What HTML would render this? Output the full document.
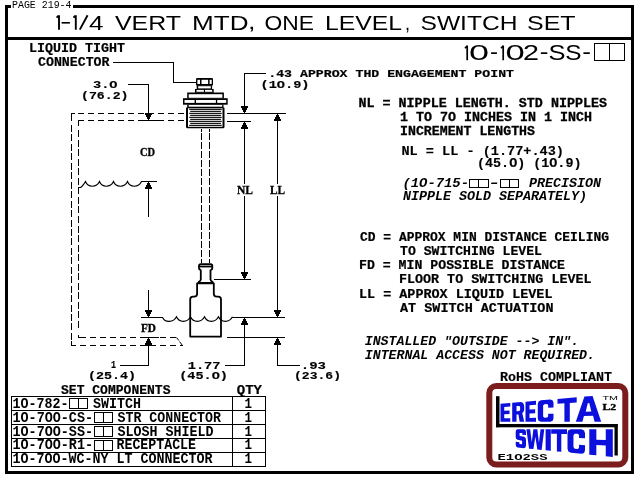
<!DOCTYPE html>
<html><head><meta charset="utf-8"><style>
html,body{margin:0;padding:0;background:#fff;width:640px;height:480px;overflow:hidden}
svg{display:block;will-change:transform}
</style></head><body>
<svg width="640" height="480" viewBox="0 0 640 480">
<rect x="0" y="0" width="640" height="480" fill="#fff"/>
<!-- connector -->
<g fill="#000">
<rect x="196" y="78" width="17" height="7.6" rx="1.2"/>
<rect x="196.7" y="85.2" width="15.4" height="4"/>
<rect x="195" y="89" width="18.7" height="3.8"/>
<rect x="187.2" y="92.5" width="36.7" height="6"/>
<rect x="183" y="98.2" width="44.7" height="6.5"/>
<rect x="187.2" y="104.5" width="36.3" height="2.8"/>
<rect x="186" y="107" width="38.5" height="21.3" rx="1.5"/>
</g>
<g fill="#fff">
<rect x="197.4" y="79.8" width="2.6" height="4.2"/>
<rect x="201.5" y="79.8" width="6.6" height="4.2"/>
<rect x="209.6" y="79.8" width="2.1" height="4.2"/>
<rect x="198.2" y="86.2" width="12.6" height="2.2"/>
<rect x="196.5" y="89.9" width="7.4" height="1.9"/>
<rect x="205" y="89.9" width="7.2" height="1.9"/>
<rect x="188.7" y="94.2" width="33.7" height="3.6"/>
<rect x="184.5" y="100" width="10.1" height="2.9"/>
<rect x="196" y="100" width="19.9" height="2.9"/>
<rect x="217.2" y="100" width="9" height="2.9"/>
<rect x="188.7" y="105" width="33.5" height="1.7"/>
<rect x="188" y="108.3" width="34.5" height="18.5"/>
</g>
<g fill="#000">
<rect x="189.2" y="108.8" width="32.5" height="1.1"/>
<rect x="190.2" y="110.8" width="30.7" height="1.1"/>
<rect x="189.2" y="112.8" width="32.5" height="1.1"/>
<rect x="190.2" y="114.8" width="30.7" height="1.1"/>
<rect x="189.2" y="116.8" width="32.5" height="1.1"/>
<rect x="190.2" y="118.8" width="30.7" height="1.1"/>
<rect x="189.2" y="120.8" width="32.5" height="1.1"/>
<rect x="190.2" y="122.8" width="30.7" height="1.1"/>
<rect x="189.2" y="124.8" width="32.5" height="1.1"/>
</g>
<!-- switch -->
<g fill="none" stroke="#000" stroke-width="1.8" stroke-linejoin="round">
<path d="M201,269.8 Q199,269.8 199,268 L199,265.8 Q199,264.1 200.8,264.1 L210.6,264.1 Q212.3,264.1 212.3,265.8 L212.3,268 Q212.3,269.8 210.4,269.8"/>
<line x1="199" y1="266.5" x2="212.3" y2="266.5"/>
<path d="M200.8,269.8 L200.8,279.5 Q200.8,281 198.8,281.8 L198.8,283.3"/>
<path d="M210.5,269.8 L210.5,279.5 Q210.5,281 212.5,281.8 L212.5,283.3"/>
<path d="M197.1,283.3 L197.1,293.8 Q197.1,296.6 194.3,296.6 L193,296.6 Q190.2,296.6 190.2,299.4 L190.2,336.6 L221,336.6 L221,299.4 Q221,296.6 218.2,296.6 L216.6,296.6 Q213.8,296.6 213.8,293.8 L213.8,283.3 Z"/>
</g>
<line x1="197.5" y1="283" x2="213.5" y2="283" stroke="#000" stroke-width="2"/>
<!-- logo -->
<rect x="489.3" y="386" width="136" height="78.5" rx="7" fill="none" stroke="#7b1d1d" stroke-width="6"/>
<g fill="#000">
<rect x="496" y="396.2" width="3.5" height="31"/>
<rect x="496" y="424" width="121.5" height="3.3"/>
<rect x="614.5" y="424" width="3.3" height="31.5"/>
</g><rect x="5" y="5" width="3" height="469" fill="#000"/>
<rect x="631" y="5" width="3" height="469" fill="#000"/>
<rect x="73" y="5" width="561" height="3" fill="#000"/>
<rect x="5" y="5" width="6" height="3" fill="#000"/>
<rect x="5" y="471" width="629" height="3" fill="#000"/>
<rect x="5" y="37" width="629" height="3" fill="#000"/>
<rect x="594" y="43" width="31" height="1" fill="#000"/>
<rect x="594" y="60" width="31" height="1" fill="#000"/>
<rect x="594" y="43" width="1" height="18" fill="#000"/>
<rect x="624" y="43" width="1" height="18" fill="#000"/>
<rect x="609" y="43" width="1" height="18" fill="#000"/>
<rect x="71" y="113" width="4" height="1" fill="#000"/>
<rect x="78" y="113" width="6" height="1" fill="#000"/>
<rect x="88" y="113" width="6" height="1" fill="#000"/>
<rect x="98" y="113" width="6" height="1" fill="#000"/>
<rect x="108" y="113" width="6" height="1" fill="#000"/>
<rect x="118" y="113" width="6" height="1" fill="#000"/>
<rect x="128" y="113" width="6" height="1" fill="#000"/>
<rect x="138" y="113" width="6" height="1" fill="#000"/>
<rect x="148" y="113" width="6" height="1" fill="#000"/>
<rect x="158" y="113" width="6" height="1" fill="#000"/>
<rect x="168" y="113" width="6" height="1" fill="#000"/>
<rect x="178" y="113" width="6" height="1" fill="#000"/>
<rect x="71" y="113" width="1" height="8" fill="#000"/>
<rect x="71" y="341" width="1" height="5" fill="#000"/>
<rect x="71" y="125" width="1" height="7" fill="#000"/>
<rect x="71" y="134" width="1" height="7" fill="#000"/>
<rect x="71" y="144" width="1" height="7" fill="#000"/>
<rect x="71" y="153" width="1" height="7" fill="#000"/>
<rect x="71" y="163" width="1" height="7" fill="#000"/>
<rect x="71" y="172" width="1" height="7" fill="#000"/>
<rect x="71" y="182" width="1" height="7" fill="#000"/>
<rect x="71" y="191" width="1" height="7" fill="#000"/>
<rect x="71" y="201" width="1" height="7" fill="#000"/>
<rect x="71" y="210" width="1" height="7" fill="#000"/>
<rect x="71" y="220" width="1" height="7" fill="#000"/>
<rect x="71" y="229" width="1" height="7" fill="#000"/>
<rect x="71" y="238" width="1" height="7" fill="#000"/>
<rect x="71" y="248" width="1" height="7" fill="#000"/>
<rect x="71" y="257" width="1" height="7" fill="#000"/>
<rect x="71" y="267" width="1" height="7" fill="#000"/>
<rect x="71" y="276" width="1" height="7" fill="#000"/>
<rect x="71" y="286" width="1" height="7" fill="#000"/>
<rect x="71" y="295" width="1" height="7" fill="#000"/>
<rect x="71" y="305" width="1" height="7" fill="#000"/>
<rect x="71" y="314" width="1" height="7" fill="#000"/>
<rect x="71" y="323" width="1" height="7" fill="#000"/>
<rect x="71" y="333" width="1" height="7" fill="#000"/>
<rect x="71" y="345" width="5" height="1" fill="#000"/>
<rect x="80" y="345" width="6" height="1" fill="#000"/>
<rect x="90" y="345" width="6" height="1" fill="#000"/>
<rect x="100" y="345" width="6" height="1" fill="#000"/>
<rect x="110" y="345" width="6" height="1" fill="#000"/>
<rect x="120" y="345" width="6" height="1" fill="#000"/>
<rect x="130" y="345" width="6" height="1" fill="#000"/>
<rect x="140" y="345" width="6" height="1" fill="#000"/>
<rect x="150" y="345" width="6" height="1" fill="#000"/>
<rect x="160" y="345" width="6" height="1" fill="#000"/>
<rect x="170" y="345" width="6" height="1" fill="#000"/>
<rect x="180" y="345" width="3" height="1" fill="#000"/>
<rect x="78" y="120" width="6" height="1" fill="#000"/>
<rect x="88" y="120" width="6" height="1" fill="#000"/>
<rect x="98" y="120" width="6" height="1" fill="#000"/>
<rect x="108" y="120" width="6" height="1" fill="#000"/>
<rect x="118" y="120" width="6" height="1" fill="#000"/>
<rect x="128" y="120" width="6" height="1" fill="#000"/>
<rect x="138" y="120" width="6" height="1" fill="#000"/>
<rect x="148" y="120" width="6" height="1" fill="#000"/>
<rect x="158" y="120" width="6" height="1" fill="#000"/>
<rect x="168" y="120" width="6" height="1" fill="#000"/>
<rect x="178" y="120" width="6" height="1" fill="#000"/>
<rect x="138" y="120" width="26" height="1" fill="#000"/>
<rect x="78" y="120" width="1" height="6" fill="#000"/>
<rect x="78" y="335" width="1" height="3" fill="#000"/>
<rect x="78" y="130" width="1" height="7" fill="#000"/>
<rect x="78" y="140" width="1" height="7" fill="#000"/>
<rect x="78" y="149" width="1" height="7" fill="#000"/>
<rect x="78" y="159" width="1" height="7" fill="#000"/>
<rect x="78" y="168" width="1" height="7" fill="#000"/>
<rect x="78" y="178" width="1" height="7" fill="#000"/>
<rect x="78" y="187" width="1" height="7" fill="#000"/>
<rect x="78" y="197" width="1" height="7" fill="#000"/>
<rect x="78" y="206" width="1" height="7" fill="#000"/>
<rect x="78" y="216" width="1" height="7" fill="#000"/>
<rect x="78" y="226" width="1" height="7" fill="#000"/>
<rect x="78" y="235" width="1" height="7" fill="#000"/>
<rect x="78" y="245" width="1" height="7" fill="#000"/>
<rect x="78" y="254" width="1" height="7" fill="#000"/>
<rect x="78" y="264" width="1" height="7" fill="#000"/>
<rect x="78" y="273" width="1" height="7" fill="#000"/>
<rect x="78" y="283" width="1" height="7" fill="#000"/>
<rect x="78" y="292" width="1" height="7" fill="#000"/>
<rect x="78" y="302" width="1" height="7" fill="#000"/>
<rect x="78" y="311" width="1" height="7" fill="#000"/>
<rect x="78" y="321" width="1" height="7" fill="#000"/>
<rect x="78" y="337" width="8" height="1" fill="#000"/>
<rect x="90" y="337" width="6" height="1" fill="#000"/>
<rect x="100" y="337" width="6" height="1" fill="#000"/>
<rect x="110" y="337" width="6" height="1" fill="#000"/>
<rect x="120" y="337" width="6" height="1" fill="#000"/>
<rect x="130" y="337" width="6" height="1" fill="#000"/>
<rect x="140" y="337" width="6" height="1" fill="#000"/>
<rect x="150" y="337" width="6" height="1" fill="#000"/>
<rect x="160" y="337" width="6" height="1" fill="#000"/>
<rect x="170" y="337" width="6" height="1" fill="#000"/>
<rect x="141" y="337" width="18" height="1" fill="#000"/>
<rect x="145" y="345" width="11" height="1" fill="#000"/>
<path d="M176.5,337.5 L178.8,340.5 M179.6,341.6 L182.5,345.5" stroke="#000" stroke-width="1" fill="none"/>
<rect x="201" y="129" width="1" height="3" fill="#000"/>
<rect x="201" y="133" width="1" height="7" fill="#000"/>
<rect x="201" y="142" width="1" height="7" fill="#000"/>
<rect x="201" y="151" width="1" height="7" fill="#000"/>
<rect x="201" y="160" width="1" height="7" fill="#000"/>
<rect x="201" y="169" width="1" height="7" fill="#000"/>
<rect x="201" y="178" width="1" height="7" fill="#000"/>
<rect x="201" y="187" width="1" height="7" fill="#000"/>
<rect x="201" y="196" width="1" height="7" fill="#000"/>
<rect x="201" y="205" width="1" height="7" fill="#000"/>
<rect x="201" y="214" width="1" height="7" fill="#000"/>
<rect x="201" y="223" width="1" height="7" fill="#000"/>
<rect x="201" y="232" width="1" height="7" fill="#000"/>
<rect x="201" y="241" width="1" height="7" fill="#000"/>
<rect x="201" y="250" width="1" height="7" fill="#000"/>
<rect x="201" y="259" width="1" height="4" fill="#000"/>
<rect x="209" y="129" width="1" height="3" fill="#000"/>
<rect x="209" y="133" width="1" height="7" fill="#000"/>
<rect x="209" y="142" width="1" height="7" fill="#000"/>
<rect x="209" y="151" width="1" height="7" fill="#000"/>
<rect x="209" y="160" width="1" height="7" fill="#000"/>
<rect x="209" y="169" width="1" height="7" fill="#000"/>
<rect x="209" y="178" width="1" height="7" fill="#000"/>
<rect x="209" y="187" width="1" height="7" fill="#000"/>
<rect x="209" y="196" width="1" height="7" fill="#000"/>
<rect x="209" y="205" width="1" height="7" fill="#000"/>
<rect x="209" y="214" width="1" height="7" fill="#000"/>
<rect x="209" y="223" width="1" height="7" fill="#000"/>
<rect x="209" y="232" width="1" height="7" fill="#000"/>
<rect x="209" y="241" width="1" height="7" fill="#000"/>
<rect x="209" y="250" width="1" height="7" fill="#000"/>
<rect x="209" y="259" width="1" height="4" fill="#000"/>
<rect x="113" y="62" width="61" height="1" fill="#000"/>
<rect x="173" y="62" width="1" height="21" fill="#000"/>
<rect x="173" y="82" width="24" height="1" fill="#000"/>
<rect x="128" y="84" width="21" height="1" fill="#000"/>
<rect x="148" y="84" width="1" height="29" fill="#000"/>
<rect x="148" y="119" width="1" height="1" fill="#000"/>
<rect x="147" y="118" width="3" height="1" fill="#000"/>
<rect x="147" y="117" width="3" height="1" fill="#000"/>
<rect x="146" y="116" width="5" height="1" fill="#000"/>
<rect x="146" y="115" width="5" height="1" fill="#000"/>
<rect x="145" y="114" width="7" height="1" fill="#000"/>
<rect x="145" y="113" width="7" height="1" fill="#000"/>
<rect x="244" y="73" width="22" height="1" fill="#000"/>
<rect x="244" y="73" width="1" height="33" fill="#000"/>
<rect x="244" y="112" width="1" height="1" fill="#000"/>
<rect x="243" y="111" width="3" height="1" fill="#000"/>
<rect x="243" y="110" width="3" height="1" fill="#000"/>
<rect x="242" y="109" width="5" height="1" fill="#000"/>
<rect x="242" y="108" width="5" height="1" fill="#000"/>
<rect x="241" y="107" width="7" height="1" fill="#000"/>
<rect x="241" y="106" width="7" height="1" fill="#000"/>
<rect x="227" y="113" width="59" height="1" fill="#000"/>
<rect x="227" y="121" width="24" height="1" fill="#000"/>
<rect x="244" y="122" width="1" height="1" fill="#000"/>
<rect x="243" y="123" width="3" height="1" fill="#000"/>
<rect x="243" y="124" width="3" height="1" fill="#000"/>
<rect x="242" y="125" width="5" height="1" fill="#000"/>
<rect x="242" y="126" width="5" height="1" fill="#000"/>
<rect x="241" y="127" width="7" height="1" fill="#000"/>
<rect x="241" y="128" width="7" height="1" fill="#000"/>
<rect x="244" y="129" width="1" height="55" fill="#000"/>
<rect x="244" y="196" width="1" height="76" fill="#000"/>
<rect x="244" y="278" width="1" height="1" fill="#000"/>
<rect x="243" y="277" width="3" height="1" fill="#000"/>
<rect x="243" y="276" width="3" height="1" fill="#000"/>
<rect x="242" y="275" width="5" height="1" fill="#000"/>
<rect x="242" y="274" width="5" height="1" fill="#000"/>
<rect x="241" y="273" width="7" height="1" fill="#000"/>
<rect x="241" y="272" width="7" height="1" fill="#000"/>
<rect x="277" y="114" width="1" height="1" fill="#000"/>
<rect x="276" y="115" width="3" height="1" fill="#000"/>
<rect x="276" y="116" width="3" height="1" fill="#000"/>
<rect x="275" y="117" width="5" height="1" fill="#000"/>
<rect x="275" y="118" width="5" height="1" fill="#000"/>
<rect x="274" y="119" width="7" height="1" fill="#000"/>
<rect x="274" y="120" width="7" height="1" fill="#000"/>
<rect x="277" y="121" width="1" height="63" fill="#000"/>
<rect x="277" y="196" width="1" height="114" fill="#000"/>
<rect x="277" y="316" width="1" height="1" fill="#000"/>
<rect x="276" y="315" width="3" height="1" fill="#000"/>
<rect x="276" y="314" width="3" height="1" fill="#000"/>
<rect x="275" y="313" width="5" height="1" fill="#000"/>
<rect x="275" y="312" width="5" height="1" fill="#000"/>
<rect x="274" y="311" width="7" height="1" fill="#000"/>
<rect x="274" y="310" width="7" height="1" fill="#000"/>
<rect x="214" y="279" width="37" height="1" fill="#000"/>
<rect x="232" y="317" width="53" height="1" fill="#000"/>
<rect x="227" y="337" width="58" height="1" fill="#000"/>
<rect x="244" y="318" width="1" height="1" fill="#000"/>
<rect x="243" y="319" width="3" height="1" fill="#000"/>
<rect x="243" y="320" width="3" height="1" fill="#000"/>
<rect x="242" y="321" width="5" height="1" fill="#000"/>
<rect x="242" y="322" width="5" height="1" fill="#000"/>
<rect x="241" y="323" width="7" height="1" fill="#000"/>
<rect x="241" y="324" width="7" height="1" fill="#000"/>
<rect x="244" y="325" width="1" height="41" fill="#000"/>
<rect x="225" y="365" width="20" height="1" fill="#000"/>
<rect x="277" y="338" width="1" height="1" fill="#000"/>
<rect x="276" y="339" width="3" height="1" fill="#000"/>
<rect x="276" y="340" width="3" height="1" fill="#000"/>
<rect x="275" y="341" width="5" height="1" fill="#000"/>
<rect x="275" y="342" width="5" height="1" fill="#000"/>
<rect x="274" y="343" width="7" height="1" fill="#000"/>
<rect x="274" y="344" width="7" height="1" fill="#000"/>
<rect x="277" y="345" width="1" height="21" fill="#000"/>
<rect x="277" y="365" width="23" height="1" fill="#000"/>
<rect x="141" y="181" width="16" height="1" fill="#000"/>
<rect x="148" y="182" width="1" height="1" fill="#000"/>
<rect x="147" y="183" width="3" height="1" fill="#000"/>
<rect x="147" y="184" width="3" height="1" fill="#000"/>
<rect x="146" y="185" width="5" height="1" fill="#000"/>
<rect x="146" y="186" width="5" height="1" fill="#000"/>
<rect x="145" y="187" width="7" height="1" fill="#000"/>
<rect x="145" y="188" width="7" height="1" fill="#000"/>
<rect x="148" y="189" width="1" height="28" fill="#000"/>
<rect x="148" y="290" width="1" height="20" fill="#000"/>
<rect x="148" y="316" width="1" height="1" fill="#000"/>
<rect x="147" y="315" width="3" height="1" fill="#000"/>
<rect x="147" y="314" width="3" height="1" fill="#000"/>
<rect x="146" y="313" width="5" height="1" fill="#000"/>
<rect x="146" y="312" width="5" height="1" fill="#000"/>
<rect x="145" y="311" width="7" height="1" fill="#000"/>
<rect x="145" y="310" width="7" height="1" fill="#000"/>
<rect x="141" y="317" width="22" height="1" fill="#000"/>
<rect x="148" y="338" width="1" height="1" fill="#000"/>
<rect x="147" y="339" width="3" height="1" fill="#000"/>
<rect x="147" y="340" width="3" height="1" fill="#000"/>
<rect x="146" y="341" width="5" height="1" fill="#000"/>
<rect x="146" y="342" width="5" height="1" fill="#000"/>
<rect x="145" y="343" width="7" height="1" fill="#000"/>
<rect x="145" y="344" width="7" height="1" fill="#000"/>
<rect x="148" y="345" width="1" height="21" fill="#000"/>
<rect x="120" y="365" width="29" height="1" fill="#000"/>
<path fill="none" stroke="#000" stroke-width="1.15" d="M78.5,187.5 L80.5,187.5 C82.5,186.5 84,184 85.5,181.5 C88,187.8 96.5,187.8 99.5,181.5 C102,187.8 110.5,187.8 113.5,181.5 C116,187.8 124.5,187.8 127.5,181.5 C130,187.8 138.5,187.8 141.5,181.5 L141.5,181.5"/>
<path fill="none" stroke="#000" stroke-width="1.15" d="M162.5,317.5 C165,322.8 173.5,322.8 176.5,316.8 C179,322.8 187.5,322.8 190.5,316.8 C193,322.8 201.5,322.8 204.5,316.8 C207,322.8 215.5,322.8 218.5,316.8 C221,322.8 229.5,322.8 232.5,316.8"/>
<rect x="11" y="396" width="255" height="1" fill="#000"/>
<rect x="11" y="410" width="255" height="1" fill="#000"/>
<rect x="11" y="424" width="255" height="1" fill="#000"/>
<rect x="11" y="438" width="255" height="1" fill="#000"/>
<rect x="11" y="452" width="255" height="1" fill="#000"/>
<rect x="11" y="466" width="255" height="1" fill="#000"/>
<rect x="11" y="396" width="1" height="71" fill="#000"/>
<rect x="265" y="396" width="1" height="71" fill="#000"/>
<rect x="232" y="396" width="1" height="71" fill="#000"/>
<rect x="69" y="398" width="19" height="1" fill="#000"/>
<rect x="69" y="408" width="19" height="1" fill="#000"/>
<rect x="69" y="398" width="1" height="11" fill="#000"/>
<rect x="87" y="398" width="1" height="11" fill="#000"/>
<rect x="78" y="398" width="1" height="11" fill="#000"/>
<rect x="94" y="412" width="19" height="1" fill="#000"/>
<rect x="94" y="422" width="19" height="1" fill="#000"/>
<rect x="94" y="412" width="1" height="11" fill="#000"/>
<rect x="112" y="412" width="1" height="11" fill="#000"/>
<rect x="103" y="412" width="1" height="11" fill="#000"/>
<rect x="94" y="426" width="19" height="1" fill="#000"/>
<rect x="94" y="436" width="19" height="1" fill="#000"/>
<rect x="94" y="426" width="1" height="11" fill="#000"/>
<rect x="112" y="426" width="1" height="11" fill="#000"/>
<rect x="103" y="426" width="1" height="11" fill="#000"/>
<rect x="94" y="440" width="19" height="1" fill="#000"/>
<rect x="94" y="450" width="19" height="1" fill="#000"/>
<rect x="94" y="440" width="1" height="11" fill="#000"/>
<rect x="112" y="440" width="1" height="11" fill="#000"/>
<rect x="103" y="440" width="1" height="11" fill="#000"/>
<rect x="469" y="179" width="20" height="1" fill="#000"/>
<rect x="469" y="187" width="20" height="1" fill="#000"/>
<rect x="469" y="179" width="1" height="9" fill="#000"/>
<rect x="488" y="179" width="1" height="9" fill="#000"/>
<rect x="478" y="179" width="1" height="9" fill="#000"/>
<rect x="500" y="179" width="19" height="1" fill="#000"/>
<rect x="500" y="187" width="19" height="1" fill="#000"/>
<rect x="500" y="179" width="1" height="9" fill="#000"/>
<rect x="518" y="179" width="1" height="9" fill="#000"/>
<rect x="509" y="179" width="1" height="9" fill="#000"/>
<path d="M467.2,45.5 V60.2 M467.2,45.8 L465,48.3 M503.2,45.5 V60.2 M503.2,45.8 L501,48.3" stroke="#000" stroke-width="1.7" fill="none"/>
<path d="M59,15.3 V29.7 M58.6,15.8 L56.6,17.6 M75.8,15.3 V29.7 M75.4,15.8 L73.4,17.6 M79.8,29.6 L87.6,15.3" stroke="#000" stroke-width="1.9" fill="none"/>
<rect x="61.6" y="22" width="8.3" height="1.6" fill="#000"/><path fill="#0c10dc" fill-rule="evenodd" d="M500.50,403.80 L510.30,402.96 L510.30,406.54 L504.22,406.96 L504.22,410.81 L509.52,410.54 L509.52,414.10 L504.22,414.29 L504.22,418.32 L510.30,418.22 L510.30,421.80 L500.50,421.80Z M512.20,402.80 L521.08,402.04 L522.76,402.69 L523.84,404.40 L524.20,406.78 L524.20,409.38 L523.72,411.41 L522.28,413.06 L524.20,421.80 L519.64,421.80 L518.44,414.38 L516.52,414.44 L516.52,421.80 L512.20,421.80Z M516.52,406.11 L519.40,405.91 L520.12,407.04 L520.12,409.80 L519.40,411.01 L516.52,411.15Z M525.50,401.66 L536.00,400.76 L536.00,404.76 L529.49,405.21 L529.49,409.51 L535.16,409.22 L535.16,413.20 L529.49,413.40 L529.49,417.91 L536.00,417.80 L536.00,421.80 L525.50,421.80Z M540.94,400.34 L550.36,399.53 L552.71,400.45 L553.50,402.87 L553.50,407.38 L548.16,407.67 L548.16,405.24 L547.22,403.98 L544.24,404.19 L543.14,405.56 L543.14,416.39 L544.24,417.67 L547.22,417.62 L548.16,416.28 L548.16,413.85 L553.50,413.69 L553.50,418.19 L552.71,420.68 L550.36,421.80 L540.94,421.80 L538.58,420.74 L537.80,418.41 L537.80,404.00 L538.58,401.60Z M557.50,398.92 L576.70,397.28 L576.70,402.43 L569.79,402.89 L569.79,421.80 L564.41,421.80 L564.41,403.26 L557.50,403.73Z M584.44,396.62 L592.56,395.92 L601.20,421.80 L594.60,421.80 L593.07,415.84 L583.93,416.02 L582.40,421.80 L575.80,421.80Z M587.74,403.21 L589.26,403.11 L591.29,411.49 L585.71,411.68Z M517.55,429.20 L524.15,429.20 L525.59,430.15 L526.00,432.26 L526.00,434.94 L522.29,434.83 L522.29,432.95 L519.61,432.90 L519.61,436.04 L524.15,436.78 L525.59,437.98 L526.00,439.91 L526.00,445.27 L525.59,447.33 L524.15,448.14 L517.55,447.49 L516.11,446.43 L515.70,444.40 L515.70,441.87 L519.41,442.13 L519.41,443.98 L522.09,444.19 L522.09,440.63 L517.55,439.81 L516.11,438.81 L515.70,437.16 L515.70,432.10 L516.11,430.11Z M526.40,429.20 L530.16,429.20 L531.77,442.21 L533.38,429.20 L537.32,429.20 L538.93,442.68 L540.54,429.20 L544.30,429.20 L541.62,449.89 L537.32,449.46 L535.35,436.82 L533.38,449.07 L529.08,448.64Z M545.60,429.20 L550.80,429.20 L550.80,450.81 L545.60,450.29Z M551.20,429.20 L567.00,429.20 L567.00,434.08 L561.31,433.96 L561.31,451.86 L556.89,451.41 L556.89,433.87 L551.20,433.75Z M571.00,429.20 L581.50,429.20 L584.12,430.45 L585.00,433.20 L585.00,438.21 L579.05,437.99 L579.05,435.31 L578.00,433.82 L574.68,433.76 L573.45,435.17 L573.45,447.10 L574.68,448.63 L578.00,448.90 L579.05,447.52 L579.05,444.83 L585.00,445.21 L585.00,450.22 L584.12,452.89 L581.50,453.87 L571.00,452.82 L568.38,451.39 L567.50,448.75 L567.50,432.92 L568.38,430.37Z M589.30,429.20 L596.35,429.20 L596.35,439.66 L605.75,440.04 L605.75,429.20 L612.80,429.20 L612.80,457.00 L605.75,456.30 L605.75,445.46 L596.35,444.89 L596.35,455.36 L589.30,454.65Z"/>

<text id="t_page" x="12.00" y="8.00" font-size="10.29" font-family='"Liberation Mono", monospace' textLength="59.50" lengthAdjust="spacingAndGlyphs">PAGE 219-4</text>
<text id="tt1" x="89.00" y="29.50" font-size="20.60" font-family='"Liberation Sans", sans-serif' textLength="14.50" lengthAdjust="spacingAndGlyphs">4</text>
<text id="tt2" x="115.00" y="29.50" font-size="20.60" font-family='"Liberation Sans", sans-serif' textLength="66.00" lengthAdjust="spacingAndGlyphs">VERT</text>
<text id="tt3" x="192.00" y="29.50" font-size="20.60" font-family='"Liberation Sans", sans-serif' textLength="56.50" lengthAdjust="spacingAndGlyphs">MTD</text>
<text id="tt4" x="264.50" y="29.50" font-size="20.60" font-family='"Liberation Sans", sans-serif' textLength="49.50" lengthAdjust="spacingAndGlyphs">ONE</text>
<text id="tt5" x="325.00" y="29.50" font-size="20.60" font-family='"Liberation Sans", sans-serif' textLength="77.00" lengthAdjust="spacingAndGlyphs">LEVEL</text>
<text id="tt6" x="420.50" y="29.50" font-size="20.60" font-family='"Liberation Sans", sans-serif' textLength="97.00" lengthAdjust="spacingAndGlyphs">SWITCH</text>
<text id="tt7" x="527.00" y="29.50" font-size="20.60" font-family='"Liberation Sans", sans-serif' textLength="48.50" lengthAdjust="spacingAndGlyphs">SET</text>
<text id="tc1" x="248.00" y="28.50" font-size="20.50" font-family='"Liberation Sans", sans-serif' textLength="7.50" lengthAdjust="spacingAndGlyphs">,</text>
<text id="tc2" x="405.00" y="29.50" font-size="20.50" font-family='"Liberation Sans", sans-serif' textLength="5.00" lengthAdjust="spacingAndGlyphs">,</text>
<text id="sub0" x="469.00" y="60.00" font-size="21.50" font-family='"Liberation Sans", sans-serif' textLength="20.00" lengthAdjust="spacingAndGlyphs">0</text>
<text id="sub1" x="505.50" y="60.00" font-size="21.50" font-family='"Liberation Sans", sans-serif' textLength="19.25" lengthAdjust="spacingAndGlyphs">0</text>
<text id="sub2" x="523.00" y="60.00" font-size="21.50" font-family='"Liberation Sans", sans-serif' textLength="16.00" lengthAdjust="spacingAndGlyphs">2</text>
<text id="sub3" x="548.50" y="60.00" font-size="21.50" font-family='"Liberation Sans", sans-serif' textLength="17.00" lengthAdjust="spacingAndGlyphs">S</text>
<text id="sub4" x="565.25" y="60.00" font-size="21.50" font-family='"Liberation Sans", sans-serif' textLength="16.25" lengthAdjust="spacingAndGlyphs">S</text>
<text id="subh0" x="490.00" y="58.50" font-size="21.50" font-family='"Liberation Sans", sans-serif' textLength="8.00" lengthAdjust="spacingAndGlyphs">-</text>
<text id="subh1" x="539.75" y="58.50" font-size="21.50" font-family='"Liberation Sans", sans-serif' textLength="8.75" lengthAdjust="spacingAndGlyphs">-</text>
<text id="subh2" x="582.25" y="58.50" font-size="21.50" font-family='"Liberation Sans", sans-serif' textLength="8.75" lengthAdjust="spacingAndGlyphs">-</text>
<text id="l1" x="29.00" y="52.00" font-size="12.90" font-family='"Liberation Mono", monospace' font-weight="bold" textLength="96.00" lengthAdjust="spacingAndGlyphs" stroke="#000" stroke-width="0.2">LIQUID TIGHT</text>
<text id="l2" x="38.00" y="66.00" font-size="12.90" font-family='"Liberation Mono", monospace' font-weight="bold" textLength="71.50" lengthAdjust="spacingAndGlyphs" stroke="#000" stroke-width="0.2">CONNECTOR</text>
<text id="l3" x="93.00" y="88.00" font-size="10.60" font-family='"Liberation Mono", monospace' font-weight="bold" textLength="24.50" lengthAdjust="spacingAndGlyphs" stroke="#000" stroke-width="0.15">3.O</text>
<text id="l4" x="81.00" y="99.00" font-size="10.60" font-family='"Liberation Mono", monospace' font-weight="bold" textLength="47.50" lengthAdjust="spacingAndGlyphs" stroke="#000" stroke-width="0.15">(76.2)</text>
<text id="l5" x="268.25" y="77.00" font-size="11.23" font-family='"Liberation Mono", monospace' font-weight="bold" textLength="245.75" lengthAdjust="spacingAndGlyphs" stroke="#000" stroke-width="0.2">.43 APPROX THD ENGAGEMENT POINT</text>
<text id="l6" x="260.50" y="88.00" font-size="10.60" font-family='"Liberation Mono", monospace' font-weight="bold" textLength="49.00" lengthAdjust="spacingAndGlyphs" stroke="#000" stroke-width="0.15">(1O.9)</text>
<text id="l7" x="111.00" y="367.60" font-size="10.60" font-family='"Liberation Mono", monospace' font-weight="bold" textLength="5.00" lengthAdjust="spacingAndGlyphs" stroke="#000" stroke-width="0.15">1</text>
<text id="l8" x="88.00" y="379.00" font-size="10.60" font-family='"Liberation Mono", monospace' font-weight="bold" textLength="48.00" lengthAdjust="spacingAndGlyphs" stroke="#000" stroke-width="0.15">(25.4)</text>
<text id="l9" x="187.75" y="368.75" font-size="10.60" font-family='"Liberation Mono", monospace' font-weight="bold" textLength="32.75" lengthAdjust="spacingAndGlyphs" stroke="#000" stroke-width="0.15">1.77</text>
<text id="l10" x="179.25" y="378.75" font-size="10.60" font-family='"Liberation Mono", monospace' font-weight="bold" textLength="48.75" lengthAdjust="spacingAndGlyphs" stroke="#000" stroke-width="0.15">(45.O)</text>
<text id="l11" x="300.75" y="369.00" font-size="10.60" font-family='"Liberation Mono", monospace' font-weight="bold" textLength="25.25" lengthAdjust="spacingAndGlyphs" stroke="#000" stroke-width="0.15">.93</text>
<text id="l12" x="294.00" y="379.00" font-size="10.60" font-family='"Liberation Mono", monospace' font-weight="bold" textLength="47.00" lengthAdjust="spacingAndGlyphs" stroke="#000" stroke-width="0.15">(23.6)</text>
<text id="s1" x="140.00" y="155.75" font-size="11.99" font-family='"Liberation Serif", serif' font-weight="bold" textLength="15.00" lengthAdjust="spacingAndGlyphs" stroke="#000" stroke-width="0.35">CD</text>
<text id="s2" x="237.00" y="194.00" font-size="12.68" font-family='"Liberation Serif", serif' font-weight="bold" textLength="16.00" lengthAdjust="spacingAndGlyphs" stroke="#000" stroke-width="0.35">NL</text>
<text id="s3" x="270.00" y="194.00" font-size="12.68" font-family='"Liberation Serif", serif' font-weight="bold" textLength="15.00" lengthAdjust="spacingAndGlyphs" stroke="#000" stroke-width="0.35">LL</text>
<text id="s4" x="141.00" y="332.00" font-size="11.68" font-family='"Liberation Serif", serif' font-weight="bold" textLength="15.00" lengthAdjust="spacingAndGlyphs" stroke="#000" stroke-width="0.35">FD</text>
<text id="r1" x="358.50" y="107.00" font-size="12.90" font-family='"Liberation Mono", monospace' font-weight="bold" textLength="248.50" lengthAdjust="spacingAndGlyphs" stroke="#000" stroke-width="0.3">NL = NIPPLE LENGTH. STD NIPPLES</text>
<text id="r2" x="400.00" y="121.00" font-size="12.90" font-family='"Liberation Mono", monospace' font-weight="bold" textLength="192.00" lengthAdjust="spacingAndGlyphs" stroke="#000" stroke-width="0.3">1 TO 7O INCHES IN 1 INCH</text>
<text id="r3" x="400.00" y="135.00" font-size="12.90" font-family='"Liberation Mono", monospace' font-weight="bold" textLength="135.00" lengthAdjust="spacingAndGlyphs" stroke="#000" stroke-width="0.3">INCREMENT LENGTHS</text>
<text id="r4" x="401.50" y="155.00" font-size="12.90" font-family='"Liberation Mono", monospace' font-weight="bold" textLength="162.50" lengthAdjust="spacingAndGlyphs" stroke="#000" stroke-width="0.15">NL = LL - (1.77+.43)</text>
<text id="r5" x="477.00" y="166.50" font-size="12.90" font-family='"Liberation Mono", monospace' font-weight="bold" textLength="104.50" lengthAdjust="spacingAndGlyphs" stroke="#000" stroke-width="0.15">(45.O) (1O.9)</text>
<text id="r6a" x="402.50" y="187.00" font-size="12.90" font-family='"Liberation Mono", monospace' font-weight="bold" font-style="italic" textLength="66.50" lengthAdjust="spacingAndGlyphs">(1O-715-</text>
<text id="r6b" x="488.00" y="187.00" font-size="12.90" font-family='"Liberation Mono", monospace' font-weight="bold" font-style="italic" textLength="12.50" lengthAdjust="spacingAndGlyphs">-</text>
<text id="r6c" x="529.00" y="187.00" font-size="12.90" font-family='"Liberation Mono", monospace' font-weight="bold" font-style="italic" textLength="72.00" lengthAdjust="spacingAndGlyphs">PRECISION</text>
<text id="r7" x="403.00" y="200.10" font-size="12.90" font-family='"Liberation Mono", monospace' font-weight="bold" font-style="italic" textLength="184.00" lengthAdjust="spacingAndGlyphs">NIPPLE SOLD SEPARATELY)</text>
<text id="r8" x="360.00" y="240.50" font-size="12.20" font-family='"Liberation Mono", monospace' font-weight="bold" textLength="249.00" lengthAdjust="spacingAndGlyphs" stroke="#000" stroke-width="0.2">CD = APPROX MIN DISTANCE CEILING</text>
<text id="r9" x="400.00" y="254.50" font-size="12.20" font-family='"Liberation Mono", monospace' font-weight="bold" textLength="142.00" lengthAdjust="spacingAndGlyphs" stroke="#000" stroke-width="0.2">TO SWITCHING LEVEL</text>
<text id="r10" x="359.00" y="268.50" font-size="12.20" font-family='"Liberation Mono", monospace' font-weight="bold" textLength="206.00" lengthAdjust="spacingAndGlyphs" stroke="#000" stroke-width="0.2">FD = MIN POSSIBLE DISTANCE</text>
<text id="r11" x="399.00" y="282.50" font-size="12.20" font-family='"Liberation Mono", monospace' font-weight="bold" textLength="192.50" lengthAdjust="spacingAndGlyphs" stroke="#000" stroke-width="0.2">FLOOR TO SWITCHING LEVEL</text>
<text id="r12" x="359.00" y="297.50" font-size="12.20" font-family='"Liberation Mono", monospace' font-weight="bold" textLength="193.50" lengthAdjust="spacingAndGlyphs" stroke="#000" stroke-width="0.2">LL = APPROX LIQUID LEVEL</text>
<text id="r13" x="400.00" y="311.50" font-size="12.20" font-family='"Liberation Mono", monospace' font-weight="bold" textLength="153.50" lengthAdjust="spacingAndGlyphs" stroke="#000" stroke-width="0.2">AT SWITCH ACTUATION</text>
<text id="r14" x="364.75" y="344.90" font-size="12.90" font-family='"Liberation Mono", monospace' font-weight="bold" font-style="italic" textLength="214.25" lengthAdjust="spacingAndGlyphs">INSTALLED &quot;OUTSIDE --&gt; IN&quot;.</text>
<text id="r15" x="364.75" y="358.50" font-size="12.90" font-family='"Liberation Mono", monospace' font-weight="bold" font-style="italic" textLength="230.25" lengthAdjust="spacingAndGlyphs">INTERNAL ACCESS NOT REQUIRED.</text>
<text id="b0" x="61.00" y="393.80" font-size="12.90" font-family='"Liberation Mono", monospace' font-weight="bold" textLength="109.50" lengthAdjust="spacingAndGlyphs" stroke="#000" stroke-width="0.2">SET COMPONENTS</text>
<text id="b00" x="236.75" y="394.20" font-size="12.90" font-family='"Liberation Mono", monospace' font-weight="bold" textLength="25.25" lengthAdjust="spacingAndGlyphs" stroke="#000" stroke-width="0.2">QTY</text>
<text id="b1a" x="12.50" y="408.00" font-size="14.00" font-family='"Liberation Mono", monospace' font-weight="bold" textLength="56.00" lengthAdjust="spacingAndGlyphs">1O-782-</text>
<text id="b1b" x="93.00" y="408.00" font-size="14.00" font-family='"Liberation Mono", monospace' font-weight="bold" textLength="48.00" lengthAdjust="spacingAndGlyphs">SWITCH</text>
<text id="b2a" x="12.50" y="421.80" font-size="14.00" font-family='"Liberation Mono", monospace' font-weight="bold" textLength="80.50" lengthAdjust="spacingAndGlyphs">1O-7OO-CS-</text>
<text id="b2b" x="117.50" y="421.80" font-size="14.00" font-family='"Liberation Mono", monospace' font-weight="bold" textLength="103.50" lengthAdjust="spacingAndGlyphs">STR CONNECTOR</text>
<text id="b3a" x="12.50" y="435.60" font-size="14.00" font-family='"Liberation Mono", monospace' font-weight="bold" textLength="80.50" lengthAdjust="spacingAndGlyphs">1O-7OO-SS-</text>
<text id="b3b" x="117.50" y="435.60" font-size="14.00" font-family='"Liberation Mono", monospace' font-weight="bold" textLength="96.00" lengthAdjust="spacingAndGlyphs">SLOSH SHIELD</text>
<text id="b4a" x="12.50" y="449.40" font-size="14.00" font-family='"Liberation Mono", monospace' font-weight="bold" textLength="80.50" lengthAdjust="spacingAndGlyphs">1O-7OO-R1-</text>
<text id="b4b" x="116.50" y="449.40" font-size="14.00" font-family='"Liberation Mono", monospace' font-weight="bold" textLength="79.50" lengthAdjust="spacingAndGlyphs">RECEPTACLE</text>
<text id="b5" x="12.50" y="463.20" font-size="14.00" font-family='"Liberation Mono", monospace' font-weight="bold" textLength="200.00" lengthAdjust="spacingAndGlyphs">1O-7OO-WC-NY LT CONNECTOR</text>
<text id="q1" x="244.50" y="408.00" font-size="14.00" font-family='"Liberation Mono", monospace' font-weight="bold" textLength="7.50" lengthAdjust="spacingAndGlyphs">1</text>
<text id="q2" x="244.50" y="421.80" font-size="14.00" font-family='"Liberation Mono", monospace' font-weight="bold" textLength="7.50" lengthAdjust="spacingAndGlyphs">1</text>
<text id="q3" x="244.50" y="435.60" font-size="14.00" font-family='"Liberation Mono", monospace' font-weight="bold" textLength="7.50" lengthAdjust="spacingAndGlyphs">1</text>
<text id="q4" x="244.50" y="449.40" font-size="14.00" font-family='"Liberation Mono", monospace' font-weight="bold" textLength="7.50" lengthAdjust="spacingAndGlyphs">1</text>
<text id="q5" x="244.50" y="463.20" font-size="14.00" font-family='"Liberation Mono", monospace' font-weight="bold" textLength="7.50" lengthAdjust="spacingAndGlyphs">1</text>
<text id="rohs" x="500.00" y="380.50" font-size="12.90" font-family='"Liberation Mono", monospace' font-weight="bold" textLength="112.00" lengthAdjust="spacingAndGlyphs" stroke="#000" stroke-width="0.15">RoHS COMPLIANT</text>
<text id="tm" x="602.50" y="399.50" font-size="6.12" font-family='"Liberation Sans", sans-serif' textLength="15.50" lengthAdjust="spacingAndGlyphs">TM</text>
<text id="l2logo" x="602.50" y="409.50" font-size="9.21" font-family='"Liberation Serif", serif' font-weight="bold" textLength="13.75" lengthAdjust="spacingAndGlyphs" stroke="#000" stroke-width="0.35">L2</text>
<text id="e102" x="497.50" y="460.00" font-size="9.87" font-family='"Liberation Mono", monospace' font-weight="bold" textLength="50.00" lengthAdjust="spacingAndGlyphs">E1O2SS</text>
</svg>
</body></html>
